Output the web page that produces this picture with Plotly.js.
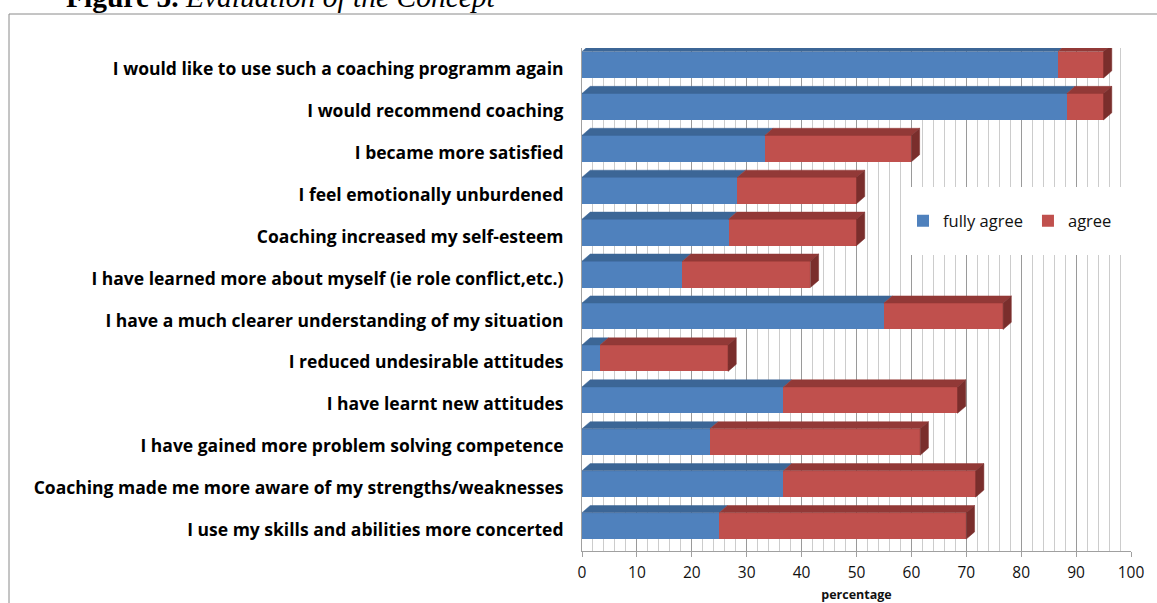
<!DOCTYPE html>
<html>
<head>
<meta charset="utf-8">
<script src="https://cdn.plot.ly/plotly-3.0.1.min.js"></script>
<style>html,body{margin:0;padding:0;background:#fff;}#chart{width:1157px;height:603px;}</style>
</head>
<body>
<div id="chart"></div>
<script>
const categories = [
  "I would like to use such a coaching programm again",
  "I would recommend coaching",
  "I became more satisfied",
  "I feel emotionally unburdened",
  "Coaching increased my self-esteem",
  "I have learned more about myself (ie role conflict,etc.)",
  "I have a much clearer understanding of my situation",
  "I reduced undesirable attitudes",
  "I have learnt new attitudes",
  "I have gained more problem solving competence",
  "Coaching made me more aware of my strengths/weaknesses",
  "I use my skills and abilities more concerted"
];
const fullyAgree = [86.7, 88.3, 33.3, 28.3, 26.7, 18.3, 55.0, 3.3, 36.7, 23.3, 36.7, 25.0];
const agree      = [8.3, 6.7, 26.7, 21.7, 23.3, 23.3, 21.7, 23.3, 31.7, 38.3, 35.0, 45.0];
const xTicks = [0, 10, 20, 30, 40, 50, 60, 70, 80, 90, 100];

const L = 582, R = 26, T = 48, B = 52, W = 1157, H = 603;
const pw = W - L - R, ph = H - T - B;
const idx = categories.map((c, i) => i);
const barW = 0.63;
const shift = 0.1;   // bars sit slightly above their labels (3D look)
const dx = 1.5;      // depth in x units
const dy = 0.17;     // depth in category units

function poly(list) {
  const xs = [], ys = [];
  list.forEach(p => { p.forEach(q => { xs.push(q[0]); ys.push(q[1]); }); xs.push(null); ys.push(null); });
  return {xs, ys};
}
const blueTop = [], redTop = [], redSide = [];
idx.forEach(i => {
  const top = i - barW / 2 - shift, bot = top + barW;
  const b = fullyAgree[i], t = fullyAgree[i] + agree[i];
  blueTop.push([[0, top], [b, top], [b + dx, top - dy], [dx, top - dy], [0, top]]);
  redTop.push([[b, top], [t, top], [t + dx, top - dy], [b + dx, top - dy], [b, top]]);
  redSide.push([[t, top], [t + dx, top - dy], [t + dx, bot - dy], [t, bot], [t, top]]);
});
function faceTrace(list, color) {
  const p = poly(list);
  return {type: 'scatter', mode: 'lines', x: p.xs, y: p.ys, fill: 'toself', fillcolor: color,
    line: {color: color, width: 0.5}, hoverinfo: 'skip', showlegend: false, connectgaps: false};
}

const traces = [
  {type: 'bar', orientation: 'h', name: 'fully agree', x: fullyAgree, y: idx, width: barW,
   offset: -barW / 2 - shift, marker: {color: '#4F81BD', line: {width: 0}}},
  {type: 'bar', orientation: 'h', name: 'agree', x: agree, y: idx, width: barW,
   offset: -barW / 2 - shift, marker: {color: '#C0504D', line: {width: 0}}},
  faceTrace(blueTop, '#3C6696'),
  faceTrace(redTop, '#923937'),
  faceTrace(redSide, '#7A2E2C')
];

const pxToPaperX = px => (px - L) / pw;
const pxToPaperY = py => (H - B - py) / ph;

const layout = {
  width: W, height: H,
  margin: {l: L, r: R, t: T, b: B, pad: 0},
  barmode: 'stack',
  paper_bgcolor: '#fff', plot_bgcolor: '#fff',
  font: {family: 'Open Sans, sans-serif', color: '#000'},
  xaxis: {
    range: [0, 100], tickvals: xTicks, ticktext: xTicks.map(String),
    showgrid: true, gridcolor: '#9A9A9A', gridwidth: 1,
    minor: {dtick: 2, showgrid: true, gridcolor: '#CCCCCC', gridwidth: 1},
    showline: true, linecolor: '#A0A0A0', linewidth: 1,
    ticks: 'outside', ticklen: 5, tickcolor: '#A0A0A0', ticklabelstandoff: 2,
    tickfont: {size: 15.5, color: '#111'}, zeroline: false, fixedrange: true,
    title: {text: 'percentage', font: {size: 12.5, weight: 'bold', color: '#111'}, standoff: 9}
  },
  yaxis: {
    range: [11.5, -0.5], tickvals: idx, ticktext: categories,
    showgrid: false, zeroline: false, showline: true, linecolor: '#A0A0A0', linewidth: 1,
    ticks: '', ticklabelstandoff: 14, automargin: false, fixedrange: true,
    tickfont: {size: 17.5, weight: 'bold', color: '#000'}
  },
  legend: {
    orientation: 'h', x: pxToPaperX(903), y: pxToPaperY(221), xanchor: 'left', yanchor: 'middle',
    bgcolor: 'rgba(255,255,255,0)', font: {size: 16.5, color: '#111'}, traceorder: 'normal',
    itemwidth: 30
  },
  shapes: [
    {type: 'rect', xref: 'x', yref: 'y', x0: (905 - L) / pw * 100, x1: (1130 - L) / pw * 100,
     y0: -0.5 + (187 - T) / ph * 12, y1: -0.5 + (255 - T) / ph * 12,
     fillcolor: '#fff', line: {width: 0}, layer: 'between'},
    {type: 'path', xref: 'paper', yref: 'paper',
     path: 'M ' + pxToPaperX(1170) + ' ' + pxToPaperY(14) + ' L ' + pxToPaperX(9) + ' ' + pxToPaperY(14) +
           ' L ' + pxToPaperX(9) + ' ' + pxToPaperY(620),
     line: {color: '#8A8A8A', width: 1}, layer: 'above'}
  ],
  annotations: [
    {xref: 'paper', yref: 'paper', x: pxToPaperX(64), y: pxToPaperY(15), xanchor: 'left', yanchor: 'bottom',
     showarrow: false, text: '<b>Figure 5.</b> <i>Evaluation of the Concept</i>',
     font: {family: 'Liberation Serif, Times New Roman, serif', size: 29.5, color: '#000'}}
  ]
};

Plotly.newPlot('chart', traces, layout, {displayModeBar: false, staticPlot: true});
</script>
</body>
</html>
